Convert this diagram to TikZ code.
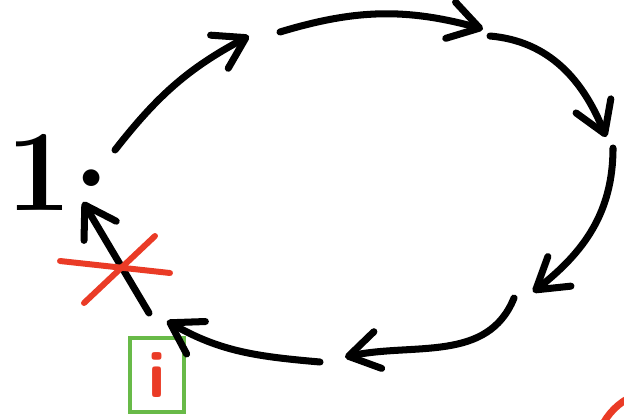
\documentclass[tikz,border=0pt]{standalone}
\usepackage{tikz}
\usetikzlibrary{arrows.meta}

\definecolor{inkred}{RGB}{234,59,38}
\definecolor{inkgreen}{RGB}{104,186,72}

\begin{document}
\begin{tikzpicture}[
      x=0.02cm, y=0.02cm,
      arr/.style={-{Straight Barb[length=6mm, width=7.5mm, round]}, line width=4pt, line cap=round},
      cross/.style={draw=inkred, line width=3.4pt, line cap=round},
      bignum/.style={inner sep=0pt, font=\bfseries\fontsize{66}{66}\selectfont},
      mark box/.style={draw=inkgreen, line width=1.8pt, minimum width=1.08cm, minimum height=1.48cm, inner sep=0pt, text=inkred, font=\sffamily\bfseries\fontsize{38}{38}\selectfont}
    ]
      \useasboundingbox (0,0) rectangle (624,-419);
      \node[bignum, anchor=base west] (one) at (6,-210) {1\hspace{0.02em}\raisebox{0.2em}{.}};
      \node[mark box] (ibox) at (157,-375) {i};
      % cycle
      \coordinate (s1) at (115,-150); \coordinate (e1) at (249,-36);
      \coordinate (s2) at (280,-32);  \coordinate (e2) at (483,-29);
      \coordinate (s3) at (490,-36);  \coordinate (e3) at (606,-137);
      \coordinate (s4) at (613,-148); \coordinate (e4) at (533,-292);
      \coordinate (s5) at (514,-298); \coordinate (e5) at (345,-357);
      \coordinate (s6) at (320,-362); \coordinate (e6) at (167,-321);
      \coordinate (s7) at (149,-313); \coordinate (e7) at (83,-202);
      \draw[arr] (s1) to[out=52, in=208] (e1);
      \draw[arr] (s2) to[bend left=16] (e2);
      \draw[arr] (s3) to[out=-5, in=112] (e3);
      \draw[arr] (s4) to[out=-90, in=38] (e4);
      \draw[arr] (s5) to[out=-112, in=12] (e5);
      \draw[arr] (s6) to[out=175, in=-30] (e6);
      \draw[arr] (s7) -- (e7);
      % crossed out
      \draw[cross] (60,-261) -- (170,-273);
      \draw[cross] (155,-236) -- (84,-303);
      \draw[inkred, line width=4pt] (660,-455) ++(150:65) arc[start angle=150, end angle=110, radius=65];
    \end{tikzpicture}
\end{document}
